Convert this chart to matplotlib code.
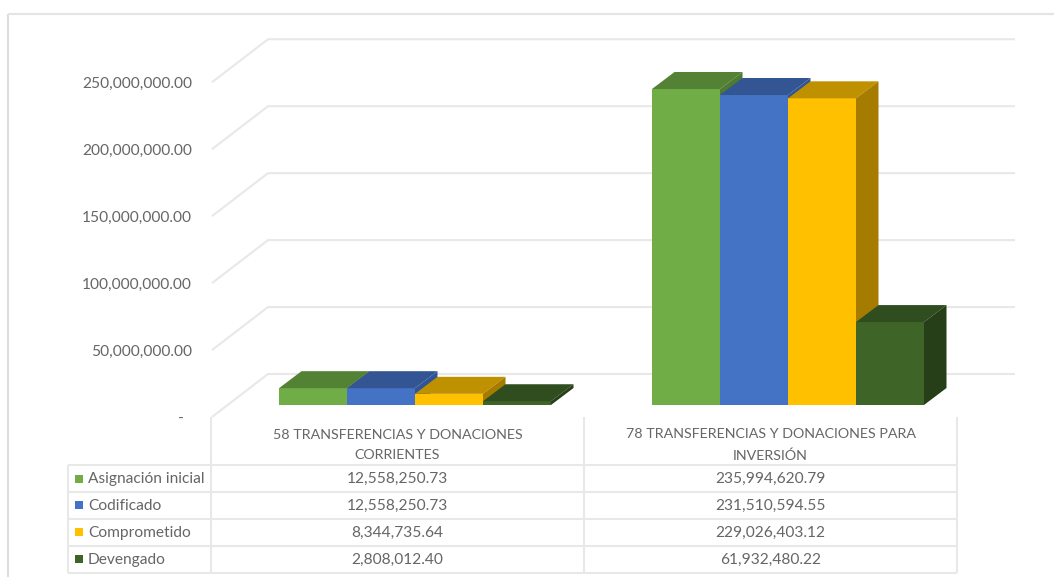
import matplotlib
matplotlib.use("Agg")
import matplotlib.pyplot as plt
from matplotlib.patches import Polygon

categories = ["58 TRANSFERENCIAS Y DONACIONES\nCORRIENTES",
              "78 TRANSFERENCIAS Y DONACIONES PARA\nINVERSIÓN"]
series_names = ["Asignación inicial", "Codificado", "Comprometido", "Devengado"]
asignacion = [12558250.73, 235994620.79]
codificado = [12558250.73, 231510594.55]
comprometido = [8344735.64, 229026403.12]
devengado = [2808012.40, 61932480.22]
series_values = [asignacion, codificado, comprometido, devengado]
value_labels = [["12,558,250.73", "235,994,620.79"],
                ["12,558,250.73", "231,510,594.55"],
                ["8,344,735.64", "229,026,403.12"],
                ["2,808,012.40", "61,932,480.22"]]
y_ticks = [0, 50e6, 100e6, 150e6, 200e6, 250e6]
y_tick_labels = ["-", "50,000,000.00", "100,000,000.00", "150,000,000.00",
                 "200,000,000.00", "250,000,000.00"]
front_colors = ["#70AD47", "#4472C4", "#FFC000", "#3F6428"]
top_colors = ["#548235", "#335593", "#BF9000", "#2F4D1E"]
side_colors = ["#4E7A31", "#2F5597", "#A67C00", "#263F18"]

W, H = 1054, 577
PX_PER_VALUE = 1.339e-6
PX_PER_CAT = 373.0
X0_PX, BASE_PX = 415.0, 405.0
BAR_W = 68.0 / PX_PER_CAT
DX, DY = 22.5 / PX_PER_CAT, 17.0 / PX_PER_VALUE
GRID = "#E8E8E8"
TEXT = "#666666"

plt.rcParams["font.family"] = ["Lato", "DejaVu Sans"]
fig = plt.figure(figsize=(W / 100, H / 100), dpi=100, facecolor="white")
ax = fig.add_axes([0, 0, 1, 1])
ax.set_xlim(-X0_PX / PX_PER_CAT, (W - X0_PX) / PX_PER_CAT)
ax.set_ylim((BASE_PX - H) / PX_PER_VALUE, BASE_PX / PX_PER_VALUE)
ax.axis("off")

def X(px):
    return (px - X0_PX) / PX_PER_CAT

def Y(py):
    return (BASE_PX - py) / PX_PER_VALUE

def line(xs, ys, color=GRID, lw=1.5, z=1):
    ax.plot([X(p) for p in xs], [Y(p) for p in ys], color=color, lw=lw, zorder=z,
            solid_capstyle="butt")

# outer frame
line([8, 8], [14, 577], color="#DEDEDE")
line([8, 1054], [14, 14], color="#E4E4E4")

# walls and gridlines
FLOOR_FRONT = 417.0
FLOOR_BACK = 374.0
for v, lab in zip(y_ticks, y_tick_labels):
    off = v * PX_PER_VALUE
    yb, yf = FLOOR_BACK - off, FLOOR_FRONT - off
    line([212, 268, 1015], [yf, yb, yb])
    label_x = 184 if v == 0 else 192
    ax.text(X(label_x), Y(yf + 2), lab, ha="right", va="center", fontsize=11.2, color=TEXT)

# 3D bars
n = len(series_values)
for i, (vals, fc, tc, sc) in enumerate(zip(series_values, front_colors, top_colors, side_colors)):
    offset = (i - (n - 1) / 2) * BAR_W
    for c, v in enumerate(vals):
        x = c + offset
        l, r = x - BAR_W / 2, x + BAR_W / 2
        z = 3 + i
        ax.bar(x, v, BAR_W, color=fc, zorder=z, linewidth=0)
        ax.add_patch(Polygon([(l, v), (r, v), (r + DX, v + DY), (l + DX, v + DY)],
                             closed=True, facecolor=tc, edgecolor="none", zorder=z))
        ax.add_patch(Polygon([(r, 0), (r, v), (r + DX, v + DY), (r + DX, DY)],
                             closed=True, facecolor=sc, edgecolor="none", zorder=z))

# data table
row_y = [465, 492, 518.5, 545.5, 573]
col_x = [68, 211, 584, 957]
for y in row_y:
    line([68, 957], [y, y], z=2)
line([68, 68], [465, 573], z=2)
for x in col_x[1:]:
    line([x, x], [417, 573], z=2)

for c, cat in enumerate(categories):
    ax.text(X(397.5 + PX_PER_CAT * c), Y(445), cat, ha="center", va="center",
            fontsize=10.3, color=TEXT, linespacing=1.85)

for r, name in enumerate(series_names):
    yc = (row_y[r] + row_y[r + 1]) / 2
    ax.add_patch(Polygon([(X(75), Y(yc - 4)), (X(83), Y(yc - 4)), (X(83), Y(yc + 4)), (X(75), Y(yc + 4))],
                         closed=True, facecolor=front_colors[r], edgecolor="none", zorder=3))
    ax.text(X(88), Y(yc + 0.7), name, ha="left", va="center", fontsize=11.2, color=TEXT)
    for c in range(2):
        ax.text(X(397.5 + PX_PER_CAT * c), Y(yc + 0.7), value_labels[r][c], ha="center", va="center",
                fontsize=11.2, color=TEXT)

fig.savefig("out.png", dpi=100, facecolor="white")
